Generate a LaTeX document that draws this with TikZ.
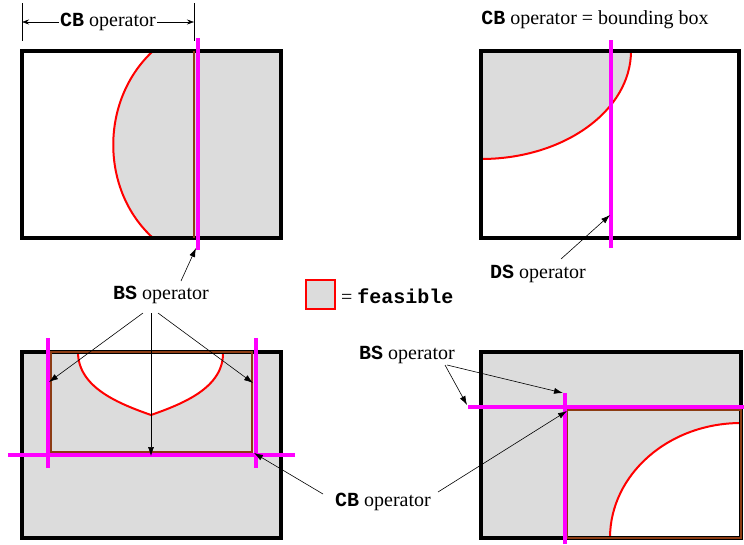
\documentclass[tikz,border=0pt]{standalone}
\usepackage{fontspec}
\setmainfont{Liberation Serif}
\setmonofont{Liberation Mono}
\usetikzlibrary{arrows.meta}
\definecolor{feas}{RGB}{220,220,220}
\definecolor{brownb}{RGB}{140,60,20}
\definecolor{magc}{RGB}{255,0,255}
\tikzset{
  frame/.style={draw=black,line width=3.2pt},
  cut/.style={draw=magc,line width=4pt},
  bbox/.style={draw=brownb,line width=2pt},
  curve/.style={draw=red,line width=2pt},
  lbl/.style={font=\fontsize{20}{22}\selectfont,inner sep=1pt},
  ptr/.style={-{Latex[length=9pt,width=6pt]},line width=0.6pt},
}
\newcommand{\opn}[1]{\texttt{\bfseries #1}}
\begin{document}
\begin{tikzpicture}[x=1pt,y=-1pt]
\useasboundingbox (0,0) rectangle (744,544);
% ---------- panel 1 (top left)
\fill[feas] (153,51) .. controls (100,100) and (100,190) .. (153,238) -- (281,238) -- (281,51) -- cycle;
\draw[curve] (153,51) .. controls (100,100) and (100,190) .. (153,238);
\draw[frame] (22,51) rectangle (281,238);
\draw[bbox] (194,51) -- (194,238);
\draw[cut] (198,38) -- (198,250);
\coordinate (p1b) at (196,248);
% dimension
\draw[line width=0.6pt] (22,3) -- (22,41);
\draw[line width=0.6pt] (194,3) -- (194,41);
\node[lbl] (cbdim) at (108,22) {\opn{CB} operator};
\coordinate (d1) at (22,22);
\coordinate (d2) at (194,22);
\draw[-{Stealth[length=7pt,width=5pt]},line width=0.6pt] (cbdim.west) -- (d1);
\draw[-{Stealth[length=7pt,width=5pt]},line width=0.6pt] (cbdim.east) -- (d2);
% ---------- panel 2 (top right)
\fill[feas] (481,51) -- (481,159) .. controls (563.8,159) and (631,110.6) .. (631,51) -- cycle;
\draw[curve] (481,159) .. controls (563.8,159) and (631,110.6) .. (631,51);
\draw[frame] (481,51) rectangle (739,238);
\draw[cut] (611,40) -- (611,248);
\node[lbl] (cbbb) at (595,20) {\opn{CB} operator = bounding box};
\node[lbl] (ds) at (538,274) {\opn{DS} operator};
\coordinate (p2a) at (610,215);
\draw[ptr] (561,259) -- (p2a);
% ---------- legend
\node[draw=red,line width=1.5pt,fill=feas,minimum width=29pt,minimum height=29pt,inner sep=0pt] (leg) at (320.5,294.5) {};
\node[lbl,anchor=west] (legt) at (340,296) {= \opn{feasible}};
% ---------- panel 3 (bottom left)
\fill[feas] (22,352) rectangle (281,538);
\fill[white] (78,352) .. controls (78,388) and (120,404) .. (151,415) .. controls (182,404) and (224,388) .. (223,352) -- cycle;
\draw[curve] (78,352) .. controls (78,388) and (120,404) .. (151,415) .. controls (182,404) and (224,388) .. (223,352);
\draw[frame] (22,352) rectangle (281,538);
\draw[bbox] (51,352) rectangle (252,452);
\draw[cut] (48,338) -- (48,468);
\draw[cut] (256,338) -- (256,468);
\draw[cut] (8,455) -- (295,455);
\node[lbl] (bs1) at (161,295) {\opn{BS} operator};
\coordinate (p3l) at (49,382);
\coordinate (p3m) at (151,456);
\coordinate (p3r) at (253,383);
\coordinate (p3c) at (254,453);
\draw[ptr] (181,281) -- (p1b);
\draw[ptr] (143,313) -- (p3l);
\draw[ptr] (151,313) -- (p3m);
\draw[ptr] (158,313) -- (p3r);
% ---------- panel 4 (bottom right)
\fill[feas] (481,352) rectangle (741,538);
\fill[white] (741,538) -- (610,538) .. controls (610,474.5) and (668.6,423) .. (741,423) -- cycle;
\draw[curve] (610,538) .. controls (610,474.5) and (668.6,423) .. (741,423);
\draw[frame] (481,352) rectangle (741,538);
\draw[bbox] (567,410) rectangle (741,538);
\draw[cut] (468,407) -- (744,407);
\draw[cut] (565,393) -- (565,544);
\node[lbl] (bs2) at (407,355) {\opn{BS} operator};
\node[lbl] (cb2) at (383,502) {\opn{CB} operator};
\coordinate (p4h) at (467,405);
\coordinate (p4v) at (563,393);
\coordinate (p4c) at (567,411);
\draw[ptr] (445,365) -- (p4h);
\draw[ptr] (447,365) -- (p4v);
\draw[ptr] (438,492) -- (p4c);
\draw[ptr] (323,494) -- (p3c);
\end{tikzpicture}
\end{document}
